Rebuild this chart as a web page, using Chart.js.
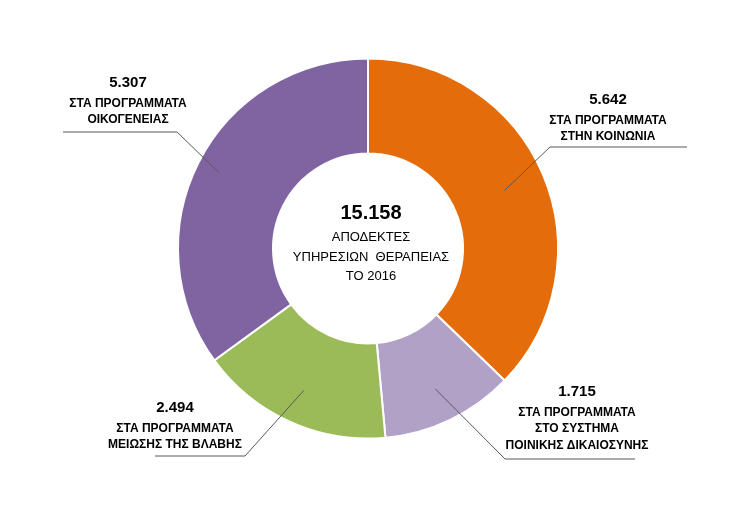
<!DOCTYPE html>
<html>
<head>
<meta charset="utf-8">
<script src="https://cdn.jsdelivr.net/npm/chart.js@4.4.1/dist/chart.umd.min.js"></script>
<style>
html,body{margin:0;padding:0;background:#fff;}
#wrap{width:741px;height:515px;position:relative;}
</style>
</head>
<body>
<div id="wrap"><canvas id="c" width="741" height="515"></canvas></div>
<script>
// ---- data ----
const categories = [
  ["ΣΤΑ ΠΡΟΓΡΑΜΜΑΤΑ", "ΣΤΗΝ ΚΟΙΝΩΝΙΑ"],
  ["ΣΤΑ ΠΡΟΓΡΑΜΜΑΤΑ", "ΣΤΟ ΣΥΣΤΗΜΑ", "ΠΟΙΝΙΚΗΣ ΔΙΚΑΙΟΣΥΝΗΣ"],
  ["ΣΤΑ ΠΡΟΓΡΑΜΜΑΤΑ", "ΜΕΙΩΣΗΣ ΤΗΣ ΒΛΑΒΗΣ"],
  ["ΣΤΑ ΠΡΟΓΡΑΜΜΑΤΑ", "ΟΙΚΟΓΕΝΕΙΑΣ"]
];
const values = [5642, 1715, 2494, 5307];
const valueLabels = ["5.642", "1.715", "2.494", "5.307"];
const totalLabel = "15.158";
const centerLines = ["ΑΠΟΔΕΚΤΕΣ", "ΥΠΗΡΕΣΙΩΝ  ΘΕΡΑΠΕΙΑΣ", "ΤΟ 2016"];
const colors = ["#E46C0A", "#B2A1C7", "#9BBB59", "#8064A2"];

// ---- label layout (relative to chart centre) ----
const labelLayout = [
  {r: 0.78, elbow: [182, -102], end: [319, -102], text: [240, -149]},
  {r: 0.82, elbow: [137, 210], end: [267, 210], text: [209, 143]},
  {r: 0.82, elbow: [-123, 207], end: [-213, 207], text: [-193, 159]},
  {r: 0.88, elbow: [-191, -117], end: [-305, -117], text: [-240, -166]}
];

const FONT = '"Liberation Sans Narrow", "Arial Narrow", "Liberation Sans", sans-serif';

const labelPlugin = {
  id: 'labels',
  afterDraw(chart) {
    const ctx = chart.ctx;
    const meta = chart.getDatasetMeta(0);
    ctx.save();
    meta.data.forEach((arc, i) => {
      const L = labelLayout[i];
      const mid = (arc.startAngle + arc.endAngle) / 2;
      const cx = arc.x, cy = arc.y;
      const sx = cx + Math.cos(mid) * arc.outerRadius * L.r;
      const sy = cy + Math.sin(mid) * arc.outerRadius * L.r;
      ctx.beginPath();
      ctx.strokeStyle = '#595959';
      ctx.lineWidth = 1;
      ctx.moveTo(sx, sy);
      ctx.lineTo(cx + L.elbow[0], cy + L.elbow[1] + 0.5);
      ctx.lineTo(cx + L.end[0], cy + L.end[1] + 0.5);
      ctx.stroke();
      const tx = cx + L.text[0];
      let ty = cy + L.text[1];
      ctx.fillStyle = '#000';
      ctx.textAlign = 'center';
      ctx.textBaseline = 'middle';
      ctx.font = 'bold 15px ' + FONT;
      ctx.fillText(valueLabels[i], tx, ty);
      ty += 21;
      ctx.font = 'bold 12px ' + FONT;
      categories[i].forEach((line, k) => {
        ctx.fillText(line, tx, ty + k * 16.5);
      });
    });
    // centre text
    const a = meta.data[0];
    ctx.fillStyle = '#000';
    ctx.textAlign = 'center';
    ctx.textBaseline = 'middle';
    ctx.font = 'bold 20px ' + FONT;
    ctx.fillText(totalLabel, a.x + 3, a.y - 35);
    ctx.font = '13px ' + FONT;
    centerLines.forEach((line, k) => {
      ctx.fillText(line, a.x + 3, a.y - 11 + k * 19.5);
    });
    ctx.restore();
  }
};

new Chart(document.getElementById('c'), {
  type: 'doughnut',
  data: {
    labels: categories.map(c => c.join(' ')),
    datasets: [{
      data: values,
      backgroundColor: colors,
      borderColor: '#ffffff',
      borderWidth: 2
    }]
  },
  options: {
    responsive: false,
    animation: false,
    cutout: '50%',
    layout: {padding: {top: 57, bottom: 75, left: 177, right: 182}},
    plugins: {legend: {display: false}, tooltip: {enabled: false}}
  },
  plugins: [labelPlugin]
});
</script>
</body>
</html>
